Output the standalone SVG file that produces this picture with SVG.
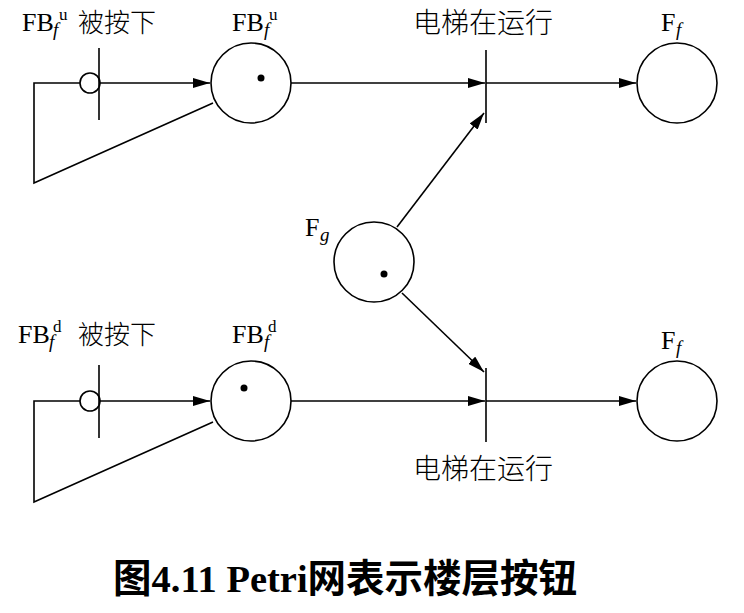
<svg xmlns="http://www.w3.org/2000/svg" width="744" height="613" viewBox="0 0 744 613">
<style>
.ln{fill:none;stroke:#000;stroke-width:1.6}
.pl{fill:#fff;stroke:#000;stroke-width:1.6}
.tk{fill:#000}
.lt{font-family:"Liberation Serif","Times New Roman",serif;font-size:26px;fill:#000}
.it{font-style:italic;font-size:19px}
.sp{font-size:17px}
.cj{font-family:"Noto Sans CJK SC","Noto Sans",sans-serif;font-size:26px;font-weight:300;fill:#000}
.ti{font-family:"Liberation Serif","Noto Sans CJK SC",serif;font-size:38.5px;font-weight:bold;fill:#000}
</style>
<defs>
<marker id="ah" markerUnits="userSpaceOnUse" markerWidth="18" markerHeight="10" refX="17" refY="5" orient="auto">
<path d="M0,0 L17,5 L0,10 Z" fill="#000"/>
</marker>
</defs>
<g id="connectors">
<path class="ln" d="M80,83 H34 V183 L213,103"/>
<line class="ln" x1="100" y1="83" x2="210" y2="83" marker-end="url(#ah)"/>
<line class="ln" x1="291" y1="83" x2="485" y2="83" marker-end="url(#ah)"/>
<line class="ln" x1="486" y1="83" x2="636" y2="83" marker-end="url(#ah)"/>
<line class="ln" x1="397" y1="227" x2="484" y2="113" marker-end="url(#ah)"/>
<path class="ln" d="M80,401 H34 V502 L213,422"/>
<line class="ln" x1="100" y1="401" x2="210" y2="401" marker-end="url(#ah)"/>
<line class="ln" x1="291" y1="401" x2="485" y2="401" marker-end="url(#ah)"/>
<line class="ln" x1="486" y1="401" x2="636" y2="401" marker-end="url(#ah)"/>
<line class="ln" x1="402" y1="293" x2="484" y2="372" marker-end="url(#ah)"/>
</g>
<g id="t_press_u">
<circle class="pl" cx="90" cy="83" r="10"/>
<line class="ln" x1="99" y1="48" x2="99" y2="120"/>
<text class="lt" x="22" y="31">FB</text>
<text class="lt it" x="53" y="36">f</text>
<text class="lt sp" x="59" y="20">u</text>
<text class="cj" x="78" y="32">被按下</text>
</g>
<g id="p_FBu">
<circle class="pl" cx="251" cy="83" r="40"/>
<circle class="tk" cx="261" cy="78" r="3.5"/>
<text class="lt" x="232" y="31">FB</text>
<text class="lt it" x="264" y="36">f</text>
<text class="lt sp" x="269" y="20">u</text>
</g>
<g id="t_run_u">
<line class="ln" x1="486" y1="50" x2="486" y2="123"/>
<text class="cj" x="413" y="33" style="font-size:28px">电梯在运行</text>
</g>
<g id="p_Ff_u">
<circle class="pl" cx="677" cy="83" r="40"/>
<text class="lt" x="661" y="31">F</text>
<text class="lt it" x="676" y="36">f</text>
</g>
<g id="p_Fg">
<circle class="pl" cx="374" cy="262" r="40"/>
<circle class="tk" cx="384" cy="274" r="3.5"/>
<text class="lt" x="305" y="236">F</text>
<text class="lt it" x="320" y="241">g</text>
</g>
<g id="t_press_d">
<circle class="pl" cx="90" cy="401" r="10"/>
<line class="ln" x1="99" y1="365" x2="99" y2="438"/>
<text class="lt" x="18" y="343">FB</text>
<text class="lt it" x="49" y="348">f</text>
<text class="lt sp" x="53" y="332">d</text>
<text class="cj" x="78" y="344">被按下</text>
</g>
<g id="p_FBd">
<circle class="pl" cx="251" cy="401" r="40"/>
<circle class="tk" cx="244" cy="388" r="3.5"/>
<text class="lt" x="232" y="343">FB</text>
<text class="lt it" x="264" y="348">f</text>
<text class="lt sp" x="268" y="332">d</text>
</g>
<g id="t_run_d">
<line class="ln" x1="486" y1="368" x2="486" y2="442"/>
<text class="cj" x="413" y="479" style="font-size:28px">电梯在运行</text>
</g>
<g id="p_Ff_d">
<circle class="pl" cx="677" cy="401" r="40"/>
<text class="lt" x="661" y="349">F</text>
<text class="lt it" x="676" y="354">f</text>
</g>
<text class="ti" x="113" y="592">图4.11 Petri网表示楼层按钮</text>
</svg>
